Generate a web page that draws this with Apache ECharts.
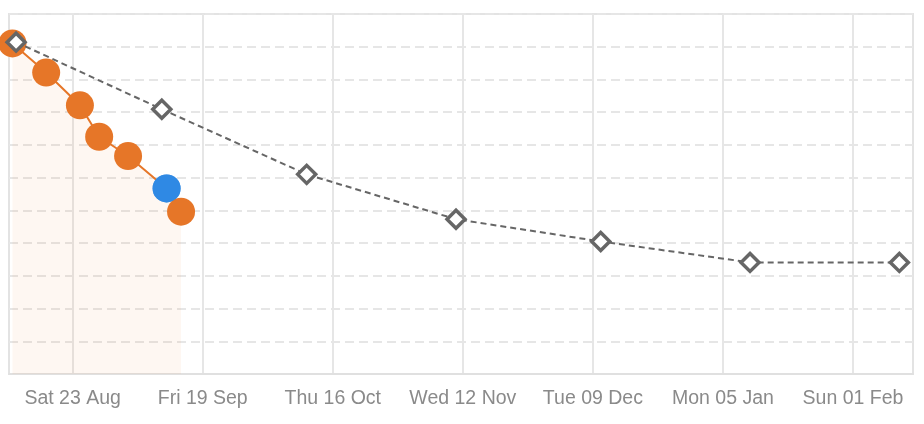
<!DOCTYPE html>
<html>
<head>
<meta charset="utf-8">
<script src="https://cdn.jsdelivr.net/npm/echarts@6/dist/echarts.min.js"></script>
<style>
  html, body { margin: 0; padding: 0; background: #ffffff; }
  #chart { width: 924px; height: 424px; }
</style>
</head>
<body>
<div id="chart"></div>
<script>
// ---- data ----
const actualDates  = ['2025-08-10 12:00', '2025-08-17 12:00', '2025-08-24 12:00', '2025-08-28 12:00', '2025-09-03 12:00', '2025-09-11 12:00', '2025-09-14 12:00'];
const actualValues = [101.0, 92.1, 82.1, 72.5, 66.6, 56.7, 49.6];
const highlightIndex = 5; // the blue point

const planDates  = ['2025-08-11 06:00', '2025-09-10 12:00', '2025-10-10 14:00', '2025-11-10 14:00', '2025-12-10 15:00', '2026-01-10 15:00', '2026-02-10 15:00'];
const planValues = [101.4, 80.9, 61.0, 47.3, 40.5, 34.1, 34.1];

const tickDates  = ['2025-08-23', '2025-09-19', '2025-10-16', '2025-11-12', '2025-12-09', '2026-01-05', '2026-02-01'];
const tickLabels = ['Sat 23 Aug', 'Fri 19 Sep', 'Thu 16 Oct', 'Wed 12 Nov', 'Tue 09 Dec', 'Mon 05 Jan', 'Sun 01 Feb'];

const xMin = '2025-08-09 18:43';
const xMax = '2026-02-13 11:00';
const yMin = 0, yMax = 110, yStep = 10;

// ---- helpers ----
function ts(s) {
  const p = s.split(' ');
  return new Date(p[0] + 'T' + (p[1] || '00:00') + ':00').getTime();
}
const tickTs = tickDates.map(ts);

const actualData = actualDates.map((d, i) => {
  const item = { value: [ts(d), actualValues[i]] };
  if (i === highlightIndex) item.itemStyle = { color: '#2f89e3' };
  return item;
});
const highlightData = [[ts(actualDates[highlightIndex]), actualValues[highlightIndex]]];
const planData = planDates.map((d, i) => [ts(d), planValues[i]]);

const chart = echarts.init(document.getElementById('chart'), null, { renderer: 'canvas' });
chart.setOption({
  animation: false,
  backgroundColor: '#ffffff',
  grid: {
    left: 9, right: 11, top: 14, bottom: 50,
    show: true, borderColor: '#e3e3e3', borderWidth: 2, backgroundColor: 'transparent'
  },
  xAxis: {
    type: 'value',
    min: ts(xMin),
    max: ts(xMax),
    axisLine: { show: true, lineStyle: { color: '#e0e0e0', width: 2 } },
    axisTick: { show: false, customValues: tickTs },
    axisLabel: {
      customValues: tickTs,
      color: '#8a8a8a',
      fontSize: 19.5,
      fontFamily: 'Liberation Sans, Arial, Helvetica, sans-serif',
      margin: 15,
      formatter: function (v) {
        const i = tickTs.indexOf(v);
        return i >= 0 ? tickLabels[i] : '';
      }
    },
    splitLine: { show: true, lineStyle: { color: '#e6e6e6', width: 2, type: 'solid' } }
  },
  yAxis: {
    type: 'value',
    min: yMin, max: yMax, interval: yStep,
    axisLine: { show: false },
    axisTick: { show: false },
    axisLabel: { show: false },
    splitLine: { show: true, lineStyle: { color: '#e6e6e6', width: 2, type: [9, 5] } }
  },
  series: [
    {
      type: 'line',
      data: actualData,
      symbol: 'circle',
      symbolSize: 28,
      lineStyle: { color: '#e67628', width: 2 },
      itemStyle: { color: '#e67628' },
      areaStyle: { color: 'rgba(235,120,40,0.09)', origin: 'start' },
      z: 2
    },
    {
      type: 'scatter',
      data: highlightData,
      symbol: 'circle',
      symbolSize: 28,
      itemStyle: { color: '#2f89e3' },
      z: 3
    },
    {
      type: 'line',
      data: planData,
      symbol: 'diamond',
      symbolSize: 18,
      showAllSymbol: true,
      lineStyle: { color: '#666666', width: 2, type: [6, 4] },
      itemStyle: { color: '#ffffff', borderColor: '#666666', borderWidth: 3.5 },
      z: 4
    }
  ]
});
</script>
</body>
</html>
